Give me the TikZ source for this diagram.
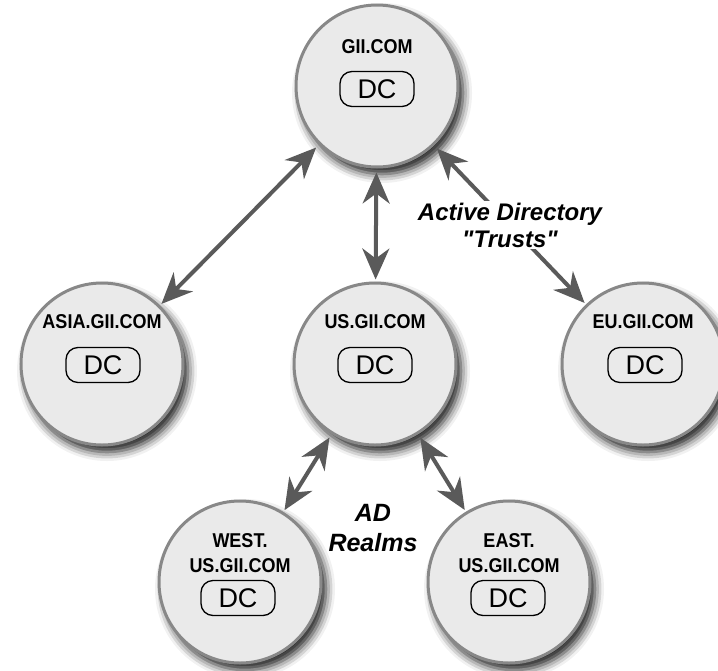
\documentclass[tikz,border=0pt]{standalone}
\usepackage{fontspec}
\usetikzlibrary{arrows.meta,shadows.blur,calc}
\newfontfamily\namefont[FakeStretch=0.9]{Liberation Sans}
\newfontfamily\dcfont{Liberation Sans}
\definecolor{discfill}{HTML}{EAEAEA}
\definecolor{discrim}{HTML}{888888}
\definecolor{linkgray}{HTML}{5A5A5A}
\tikzset{
  domdisc/.style={circle, minimum size=162pt, inner sep=0pt, fill=discfill,
    draw=discrim, line width=3pt,
    blur shadow={shadow xshift=5pt, shadow yshift=-7pt, shadow blur radius=9pt, shadow opacity=90}},
  domname/.style={inner sep=0pt, align=center, font=\namefont\bfseries\fontsize{20}{25}\selectfont},
  dcbox/.style={draw=black, line width=1.3pt, rounded corners=12pt, fill=discfill,
    minimum width=74pt, minimum height=35pt, inner sep=0pt,
    font=\dcfont\fontsize{27}{27}\selectfont},
  trustlink/.style={draw=linkgray, line width=4pt,
    {Stealth[length=31pt,width=27pt,inset=10pt]}-{Stealth[length=31pt,width=27pt,inset=10pt]},
    shorten <=4pt, shorten >=2pt},
  notetext/.style={align=center, inner sep=2pt,
    font=\dcfont\bfseries\itshape\fontsize{24}{27}\selectfont}
}
\begin{document}
\begin{tikzpicture}[x=1pt, y=-1pt]
\useasboundingbox (0,0) rectangle (718,670);

% domain discs
\node[domdisc] (gii)  at (377,86)  {};
\node[domdisc] (asia) at (102,364) {};
\node[domdisc] (us)   at (375,364) {};
\node[domdisc] (eu)   at (643,364) {};
\node[domdisc] (west) at (240,582) {};
\node[domdisc] (east) at (509,582) {};

% domain names and controllers
\node[domname] (giiname)  at (377,47)  {GII.COM};
\node[dcbox]   (giidc)    at (377,89)  {DC};
\node[domname] (asianame) at (102,322) {ASIA.GII.COM};
\node[dcbox]   (asiadc)   at (103,365) {DC};
\node[domname] (usname)   at (375,322) {US.GII.COM};
\node[dcbox]   (usdc)     at (375,365) {DC};
\node[domname] (euname)   at (643,322) {EU.GII.COM};
\node[dcbox]   (eudc)     at (645,365) {DC};
\node[domname] (westname) at (240,553) {WEST.\\US.GII.COM};
\node[dcbox]   (westdc)   at (238,598) {DC};
\node[domname] (eastname) at (509,553) {EAST.\\US.GII.COM};
\node[dcbox]   (eastdc)   at (508,598) {DC};

% trust links
\draw[trustlink] (gii) -- (asia);
\draw[trustlink] (gii) -- (us);
\draw[trustlink] (gii) -- node[notetext, fill=white] (trusts) {Active Directory\\"Trusts"} (eu);
\draw[trustlink] (us) -- (west);
\draw[trustlink] (us) -- (east);

\node[notetext, font=\dcfont\bfseries\itshape\fontsize{25}{30}\selectfont] (realms) at (373,528) {AD\\Realms};
\end{tikzpicture}
\end{document}
